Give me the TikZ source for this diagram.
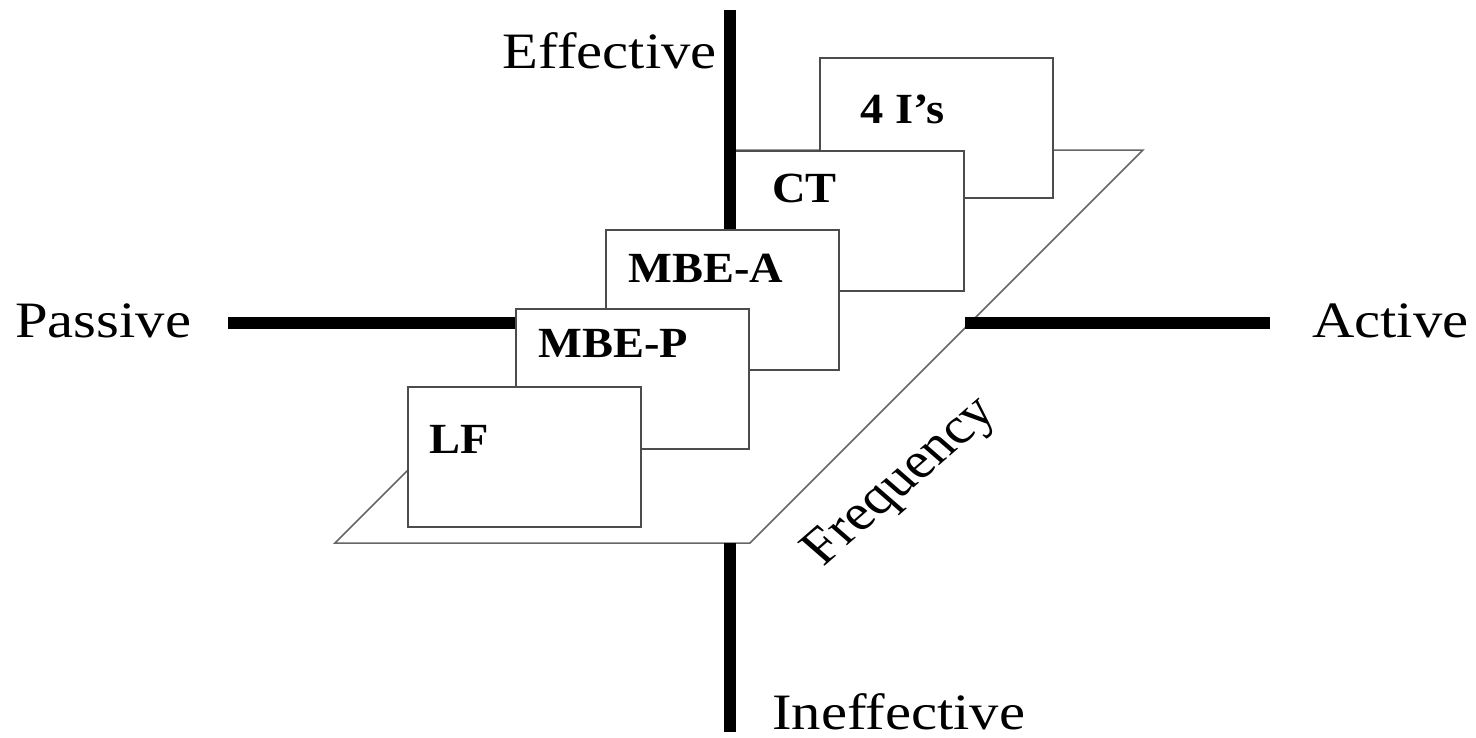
\documentclass[tikz,border=0pt]{standalone}
\usepackage{fontspec}
\setmainfont{Liberation Serif}
\usepackage{tikz}
\usetikzlibrary{calc}
\tikzstyle{achse} = [line width=12pt,draw=black]
\tikzstyle{ebene} = [line width=1.5pt,draw=black!60]
\tikzstyle{stil} = [rectangle,line width=1.5pt,draw=black!70,fill=white,anchor=north west,inner sep=0pt,minimum width=233pt,minimum height=140pt]
\tikzstyle{stilname} = [anchor=base west,inner sep=0pt,font=\bfseries\fontsize{43}{50}\selectfont,xscale=1.08]
\tikzstyle{pol} = [inner sep=0pt,font=\fontsize{51}{60}\selectfont,xscale=1.15]

\begin{document}
\begin{tikzpicture}[x=1pt,y=-1pt]
\useasboundingbox (0,0) rectangle (1476,737);

% Ebene
\coordinate (E1) at (335,543);
\coordinate (E2) at (750,543);
\coordinate (E3) at (1143,150);
\coordinate (E4) at (728,150);
\fill[white] (E1) -- (E2) -- (E3) -- (E4) -- cycle;
\draw[ebene] ($(E1)!0.3!(E4)$) -- (E1) -- (E2) -- (E3) -- (E4);

% Stile
\node[stil] (vier) at (819,57) {};
\node[stilname] at ([shift={(41,66)}]vier.north west) {4 I’s};

\node[stil] (ct) at (730,150) {};
\node[stilname] at ([shift={(42,52)}]ct.north west) {CT};

\node[stil] (mbea) at (605,229) {};
\node[stilname] at ([shift={(23,53)}]mbea.north west) {MBE-A};

\node[stil] (mbep) at (515,308) {};
\node[stilname] at ([shift={(23,49)}]mbep.north west) {MBE-P};

\node[stil] (lf) at (407,386) {};
\node[stilname] at ([shift={(22,67)}]lf.north west) {LF};

% Achsen
\coordinate (oben) at (730,10);
\coordinate (unten) at (730,732);
\coordinate (links) at (228,323);
\coordinate (rechts) at (1270,323);
\draw[achse] (oben) -- (oben |- mbea.north);
\draw[achse] (unten) -- (unten |- E1);
\draw[achse] (links) -- (links -| mbep.west);
\draw[achse] (rechts) -- (965,323);

\node[pol,anchor=base east] (eff) at (717,68) {Effective};
\node[pol,anchor=base west] (pas) at (15,337) {Passive};
\node[pol,anchor=base west] (act) at (1312,337) {Active};
\node[pol,anchor=base west] (ineff) at (772,729) {Ineffective};
\node[pol,rotate=45] (freq) at (902,483) {Frequency};
\end{tikzpicture}
\end{document}
